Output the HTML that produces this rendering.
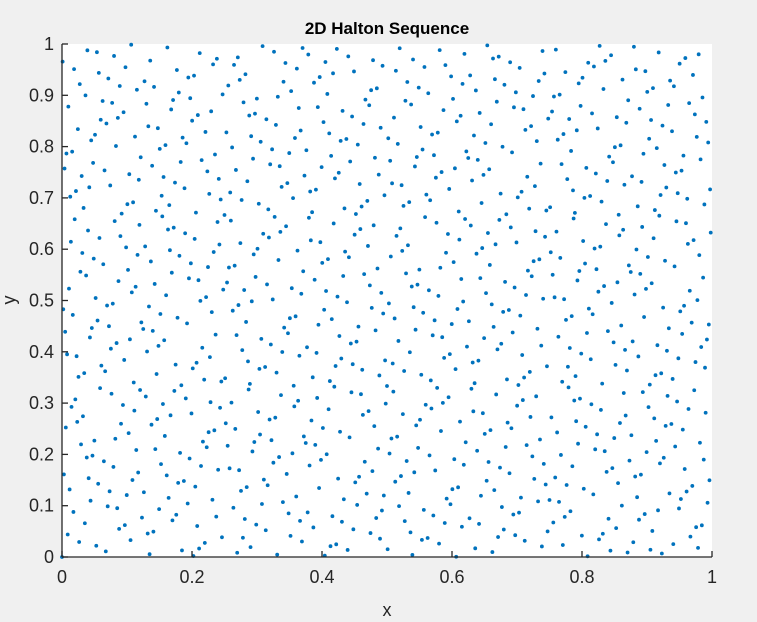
<!DOCTYPE html>
<html><head><meta charset="utf-8"><style>
html,body{margin:0;padding:0;background:#f0f0f0;}
svg{display:block;font-family:"Liberation Sans",sans-serif;}
</style></head><body>
<svg id="chart" width="757" height="622" viewBox="0 0 757 622" xmlns="http://www.w3.org/2000/svg">
<rect x="0" y="0" width="757" height="622" fill="#f0f0f0"/>
<rect x="62" y="44" width="650" height="513" fill="#ffffff"/>
<g id="points"></g>
<g id="axes"></g>
<text x="387" y="34" text-anchor="middle" font-size="17" font-weight="bold" fill="#000">2D Halton Sequence</text>
<text x="387" y="616" text-anchor="middle" font-size="18" fill="#262626">x</text>
<text x="15" y="300" text-anchor="middle" font-size="18" fill="#262626" transform="rotate(-90 15 300)">y</text>
</svg>
<script>
const xUnits = [
0,512,256,768,128,640,384,896,64,576,320,832,192,704,448,960,
32,544,288,800,160,672,416,928,96,608,352,864,224,736,480,992,
16,528,272,784,144,656,400,912,80,592,336,848,208,720,464,976,
48,560,304,816,176,688,432,944,112,624,368,880,240,752,496,1008,
8,520,264,776,136,648,392,904,72,584,328,840,200,712,456,968,
40,552,296,808,168,680,424,936,104,616,360,872,232,744,488,1000,
24,536,280,792,152,664,408,920,88,600,344,856,216,728,472,984,
56,568,312,824,184,696,440,952,120,632,376,888,248,760,504,1016,
4,516,260,772,132,644,388,900,68,580,324,836,196,708,452,964,
36,548,292,804,164,676,420,932,100,612,356,868,228,740,484,996,
20,532,276,788,148,660,404,916,84,596,340,852,212,724,468,980,
52,564,308,820,180,692,436,948,116,628,372,884,244,756,500,1012,
12,524,268,780,140,652,396,908,76,588,332,844,204,716,460,972,
44,556,300,812,172,684,428,940,108,620,364,876,236,748,492,1004,
28,540,284,796,156,668,412,924,92,604,348,860,220,732,476,988,
60,572,316,828,188,700,444,956,124,636,380,892,252,764,508,1020,
2,514,258,770,130,642,386,898,66,578,322,834,194,706,450,962,
34,546,290,802,162,674,418,930,98,610,354,866,226,738,482,994,
18,530,274,786,146,658,402,914,82,594,338,850,210,722,466,978,
50,562,306,818,178,690,434,946,114,626,370,882,242,754,498,1010,
10,522,266,778,138,650,394,906,74,586,330,842,202,714,458,970,
42,554,298,810,170,682,426,938,106,618,362,874,234,746,490,1002,
26,538,282,794,154,666,410,922,90,602,346,858,218,730,474,986,
58,570,314,826,186,698,442,954,122,634,378,890,250,762,506,1018,
6,518,262,774,134,646,390,902,70,582,326,838,198,710,454,966,
38,550,294,806,166,678,422,934,102,614,358,870,230,742,486,998,
22,534,278,790,150,662,406,918,86,598,342,854,214,726,470,982,
54,566,310,822,182,694,438,950,118,630,374,886,246,758,502,1014,
14,526,270,782,142,654,398,910,78,590,334,846,206,718,462,974,
46,558,302,814,174,686,430,942,110,622,366,878,238,750,494,1006,
30,542,286,798,158,670,414,926,94,606,350,862,222,734,478,990,
62,574,318,830,190,702,446,958,126,638,382,894,254,766,510,1022,
1,513,257,769,129,641,385,897,65,577,321,833,193,705,449,961,
33,545,289,801,161,673,417,929,97,609,353,865,225,737,481,993,
17,529,273,785,145,657,401,913,81,593,337,849,209,721,465,977,
49,561,305,817,177,689,433,945,113,625,369,881,241,753,497,1009,
9,521,265,777,137,649,393,905,73,585,329,841,201,713,457,969,
41,553,297,809,169,681,425,937,105,617,361,873,233,745,489,1001,
25,537,281,793,153,665,409,921,89,601,345,857,217,729,473,985,
57,569,313,825,185,697,441,953,121,633,377,889,249,761,505,1017,
5,517,261,773,133,645,389,901,69,581,325,837,197,709,453,965,
37,549,293,805,165,677,421,933,101,613,357,869,229,741,485,997,
21,533,277,789,149,661,405,917,85,597,341,853,213,725,469,981,
53,565,309,821,181,693,437,949,117,629,373,885,245,757,501,1013,
13,525,269,781,141,653,397,909,77,589,333,845,205,717,461,973,
45,557,301,813,173,685,429,941,109,621,365,877,237,749,493,1005,
29,541,285,797,157,669,413,925,93,605,349,861,221,733,477,989,
61,573,317,829,189,701,445,957,125,637,381,893,253,765,509,1021,
3,515,259,771,131,643,387,899,67,579,323,835,195,707,451,963,
35,547,291,803,163,675,419,931,99,611,355,867,227,739,483,995,
19,531,275,787,147,659,403,915,83,595,339,851,211,723,467,979,
51,563,307,819,179,691,435,947,115,627,371,883,243,755,499,1011,
11,523,267,779,139,651,395,907,75,587,331,843,203,715,459,971,
43,555,299,811,171,683,427,939,107,619,363,875,235,747,491,1003,
27,539,283,795,155,667,411,923,91,603,347,859,219,731,475,987,
59,571,315,827,187,699,443,955,123,635,379,891,251,763,507,1019,
7,519,263,775,135,647,391,903,71,583,327,839,199,711,455,967,
39,551,295,807,167,679,423,935,103,615,359,871,231,743,487,999,
23,535,279,791,151,663,407,919,87,599,343,855,215,727,471,983,
55,567,311,823,183,695,439,951,119,631,375,887,247,759,503,1015,
15,527,271,783,143,655,399,911,79,591,335,847,207,719,463,975,
47,559,303,815,175,687,431,943,111,623,367,879,239,751,495,1007,
31,543,287,799,159,671,415,927
];
const yUnits = [
0,729,1458,243,972,1701,486,1215,1944,81,810,1539,324,1053,1782,567,1296,2025,162,891,1620,405,1134,1863,648,1377,2106,
27,756,1485,270,999,1728,513,1242,1971,108,837,1566,351,1080,1809,594,1323,2052,189,918,1647,432,1161,1890,675,1404,2133,
54,783,1512,297,1026,1755,540,1269,1998,135,864,1593,378,1107,1836,621,1350,2079,216,945,1674,459,1188,1917,702,1431,2160,
9,738,1467,252,981,1710,495,1224,1953,90,819,1548,333,1062,1791,576,1305,2034,171,900,1629,414,1143,1872,657,1386,2115,
36,765,1494,279,1008,1737,522,1251,1980,117,846,1575,360,1089,1818,603,1332,2061,198,927,1656,441,1170,1899,684,1413,2142,
63,792,1521,306,1035,1764,549,1278,2007,144,873,1602,387,1116,1845,630,1359,2088,225,954,1683,468,1197,1926,711,1440,2169,
18,747,1476,261,990,1719,504,1233,1962,99,828,1557,342,1071,1800,585,1314,2043,180,909,1638,423,1152,1881,666,1395,2124,
45,774,1503,288,1017,1746,531,1260,1989,126,855,1584,369,1098,1827,612,1341,2070,207,936,1665,450,1179,1908,693,1422,2151,
72,801,1530,315,1044,1773,558,1287,2016,153,882,1611,396,1125,1854,639,1368,2097,234,963,1692,477,1206,1935,720,1449,2178,
3,732,1461,246,975,1704,489,1218,1947,84,813,1542,327,1056,1785,570,1299,2028,165,894,1623,408,1137,1866,651,1380,2109,
30,759,1488,273,1002,1731,516,1245,1974,111,840,1569,354,1083,1812,597,1326,2055,192,921,1650,435,1164,1893,678,1407,2136,
57,786,1515,300,1029,1758,543,1272,2001,138,867,1596,381,1110,1839,624,1353,2082,219,948,1677,462,1191,1920,705,1434,2163,
12,741,1470,255,984,1713,498,1227,1956,93,822,1551,336,1065,1794,579,1308,2037,174,903,1632,417,1146,1875,660,1389,2118,
39,768,1497,282,1011,1740,525,1254,1983,120,849,1578,363,1092,1821,606,1335,2064,201,930,1659,444,1173,1902,687,1416,2145,
66,795,1524,309,1038,1767,552,1281,2010,147,876,1605,390,1119,1848,633,1362,2091,228,957,1686,471,1200,1929,714,1443,2172,
21,750,1479,264,993,1722,507,1236,1965,102,831,1560,345,1074,1803,588,1317,2046,183,912,1641,426,1155,1884,669,1398,2127,
48,777,1506,291,1020,1749,534,1263,1992,129,858,1587,372,1101,1830,615,1344,2073,210,939,1668,453,1182,1911,696,1425,2154,
75,804,1533,318,1047,1776,561,1290,2019,156,885,1614,399,1128,1857,642,1371,2100,237,966,1695,480,1209,1938,723,1452,2181,
6,735,1464,249,978,1707,492,1221,1950,87,816,1545,330,1059,1788,573,1302,2031,168,897,1626,411,1140,1869,654,1383,2112,
33,762,1491,276,1005,1734,519,1248,1977,114,843,1572,357,1086,1815,600,1329,2058,195,924,1653,438,1167,1896,681,1410,2139,
60,789,1518,303,1032,1761,546,1275,2004,141,870,1599,384,1113,1842,627,1356,2085,222,951,1680,465,1194,1923,708,1437,2166,
15,744,1473,258,987,1716,501,1230,1959,96,825,1554,339,1068,1797,582,1311,2040,177,906,1635,420,1149,1878,663,1392,2121,
42,771,1500,285,1014,1743,528,1257,1986,123,852,1581,366,1095,1824,609,1338,2067,204,933,1662,447,1176,1905,690,1419,2148,
69,798,1527,312,1041,1770,555,1284,2013,150,879,1608,393,1122,1851,636,1365,2094,231,960,1689,474,1203,1932,717,1446,2175,
24,753,1482,267,996,1725,510,1239,1968,105,834,1563,348,1077,1806,591,1320,2049,186,915,1644,429,1158,1887,672,1401,2130,
51,780,1509,294,1023,1752,537,1266,1995,132,861,1590,375,1104,1833,618,1347,2076,213,942,1671,456,1185,1914,699,1428,2157,
78,807,1536,321,1050,1779,564,1293,2022,159,888,1617,402,1131,1860,645,1374,2103,240,969,1698,483,1212,1941,726,1455,2184,
1,730,1459,244,973,1702,487,1216,1945,82,811,1540,325,1054,1783,568,1297,2026,163,892,1621,406,1135,1864,649,1378,2107,
28,757,1486,271,1000,1729,514,1243,1972,109,838,1567,352,1081,1810,595,1324,2053,190,919,1648,433,1162,1891,676,1405,2134,
55,784,1513,298,1027,1756,541,1270,1999,136,865,1594,379,1108,1837,622,1351,2080,217,946,1675,460,1189,1918,703,1432,2161,
10,739,1468,253,982,1711,496,1225,1954,91,820,1549,334,1063,1792,577,1306,2035,172,901,1630,415,1144,1873,658,1387,2116,
37,766,1495,280,1009,1738,523,1252,1981,118,847,1576,361,1090,1819,604,1333,2062,199,928,1657,442,1171,1900,685,1414,2143,
64,793,1522,307,1036,1765,550,1279,2008,145,874,1603,388,1117,1846,631,1360,2089,226,955,1684,469,1198,1927,712,1441,2170,
19,748,1477,262,991,1720,505,1234,1963,100,829,1558,343,1072,1801,586,1315,2044,181,910,1639,424,1153,1882,667,1396,2125,
46,775,1504,289,1018,1747,532,1261,1990,127,856,1585,370,1099,1828,613,1342,2071,208,937,1666,451,1180,1909,694,1423,2152,
73,802,1531,316,1045,1774,559,1288,2017,154,883,1612,397,1126,1855,640,1369,2098,235,964,1693,478,1207,1936,721,1450,2179,
4,733,1462,247,976,1705,490,1219,1948,85,814,1543,328,1057,1786,571,1300,2029,166,895,1624,409,1138,1867,652,1381,2110,
31
];
const xTickLabels = ["0","0.2","0.4","0.6","0.8","1"];
const xTickValues = [0,0.2,0.4,0.6,0.8,1];
const yTickLabels = ["0","0.1","0.2","0.3","0.4","0.5","0.6","0.7","0.8","0.9","1"];
const yTickValues = [0,0.1,0.2,0.3,0.4,0.5,0.6,0.7,0.8,0.9,1];

const NS = "http://www.w3.org/2000/svg";
const L = 62, R = 712, T = 44, B = 557;
function xScale(v){ return L + v * (R - L); }
function yScale(v){ return B - v * (B - T); }

const pts = document.getElementById("points");
const n = Math.min(xUnits.length, yUnits.length);
for (let i = 0; i < n; i++) {
  const c = document.createElementNS(NS, "circle");
  c.setAttribute("cx", xScale(xUnits[i] / 1024).toFixed(2));
  c.setAttribute("cy", yScale(yUnits[i] / 2187).toFixed(2));
  c.setAttribute("r", "1.9");
  c.setAttribute("fill", "#0072BD");
  
  
  pts.appendChild(c);
}

const ax = document.getElementById("axes");
function line(x1,y1,x2,y2){
  const l = document.createElementNS(NS, "line");
  l.setAttribute("x1",x1); l.setAttribute("y1",y1);
  l.setAttribute("x2",x2); l.setAttribute("y2",y2);
  l.setAttribute("stroke","#262626"); l.setAttribute("stroke-width","1.3");
  return l;
}
const xAxis = line(L, B, R, B);


ax.appendChild(xAxis);
const yAxis = line(L, T, L, B);


ax.appendChild(yAxis);

xTickValues.forEach((v, i) => {
  const x = xScale(v);
  const t = line(x, B, x, B - 6);
  
  
  ax.appendChild(t);
  const tx = document.createElementNS(NS, "text");
  tx.setAttribute("x", x); tx.setAttribute("y", B + 26);
  tx.setAttribute("text-anchor", "middle");
  tx.setAttribute("font-size", "18");
  tx.setAttribute("fill", "#262626");
  tx.textContent = xTickLabels[i];
  
  
  ax.appendChild(tx);
});
yTickValues.forEach((v, i) => {
  const y = yScale(v);
  const t = line(L, y, L + 6, y);
  
  
  ax.appendChild(t);
  const tx = document.createElementNS(NS, "text");
  tx.setAttribute("x", L - 8); tx.setAttribute("y", y + 6);
  tx.setAttribute("text-anchor", "end");
  tx.setAttribute("font-size", "18");
  tx.setAttribute("fill", "#262626");
  tx.textContent = yTickLabels[i];
  
  
  ax.appendChild(tx);
});
</script>
</body></html>
